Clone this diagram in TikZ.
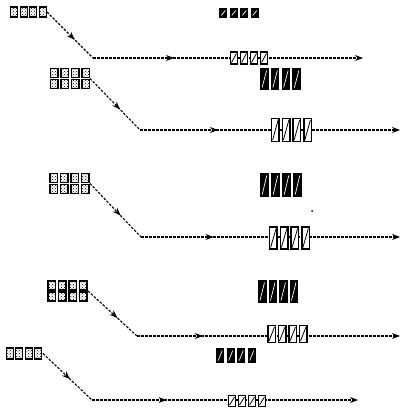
\documentclass[tikz,border=0pt]{standalone}
\usetikzlibrary{arrows.meta,decorations.markings,patterns}

% four boxes in a row, centred on a group node
\newcommand{\boxquad}[5]{%
  \foreach \i in {1,...,4}
    \node[#2, minimum width=#4, minimum height=#5] (#1-\i)
      at ([xshift={(\i-2.5)*#3}]#1.center) {};}
% two rows of four
\newcommand{\boxgrid}[5]{%
  \foreach \i in {1,...,4}
    \foreach \j in {1,2}
      \node[#2, minimum width=#4, minimum height=#5] (#1-\i-\j)
        at ([xshift={(\i-2.5)*#3}, yshift={(1.5-\j)*(#5+2)}]#1.center) {};}

\tikzset{
  grp/.style={inner sep=0pt, outer sep=0pt},
  dotbox/.style={inner sep=0pt, draw=black, line width=1.4pt,
    preaction={fill=white}, pattern=crosshatch dots, pattern color=black},
  slashbox/.style={inner sep=0pt, draw=black, fill=black, line width=1pt,
    path picture={\draw[white, line width=0.7pt]
      ([shift={(1.5pt,2pt)}]path picture bounding box.south west) --
      ([shift={(-1.5pt,-2pt)}]path picture bounding box.north east);}},
  linebox/.style={inner sep=0pt, draw=black, fill=white, line width=1.3pt,
    path picture={\draw[black, line width=0.8pt]
      ([shift={(1pt,1.5pt)}]path picture bounding box.south west) --
      ([shift={(-1pt,-1.5pt)}]path picture bounding box.north east);}},
  track/.style={dash pattern=on 2.5pt off 1.5pt, line width=1.1pt},
  midarrow/.style={decoration={markings,
    mark=at position #1 with {\arrow{Stealth[length=8pt, width=6pt]}}},
    postaction={decorate}},
  endarrow/.style={-{Stealth[length=8pt, width=6pt]}}
}

\begin{document}
\begin{tikzpicture}[x=1pt, y=-1pt]
  \useasboundingbox (0,0) rectangle (402,415);

  % group places
  \node[grp, minimum width=37, minimum height=12] (a) at (28.5,12) {};
  \node[grp, minimum width=42, minimum height=10] (t1) at (239,13) {};
  \node[grp, minimum width=40, minimum height=14] (m1) at (249,58) {};
  \node[grp, minimum width=40, minimum height=23] (b) at (70,78.5) {};
  \node[grp, minimum width=43, minimum height=22] (t2) at (280.5,79) {};
  \node[grp, minimum width=43, minimum height=24] (m2) at (291.5,130) {};
  \node[grp, minimum width=41, minimum height=23] (c) at (69.5,183.5) {};
  \node[grp, minimum width=44, minimum height=24] (t3) at (281,185) {};
  \node[grp, minimum width=43, minimum height=23] (m3) at (289.5,238) {};
  \node[grp, minimum width=41, minimum height=22] (d) at (67.5,291) {};
  \node[grp, minimum width=40, minimum height=23] (t4) at (278,291.5) {};
  \node[grp, minimum width=41, minimum height=18] (m4) at (287.5,334) {};
  \node[grp, minimum width=42, minimum height=15] (u4) at (236,355.5) {};
  \node[grp, minimum width=38, minimum height=13] (e) at (24,353.5) {};
  \node[grp, minimum width=40, minimum height=12] (m5) at (247,401) {};

  % bends and ends
  \coordinate (k1) at (93,58);   \coordinate (z1) at (363,58);
  \coordinate (k2) at (140,130); \coordinate (z2) at (400,130);
  \coordinate (k3) at (141,237); \coordinate (z3) at (400,237);
  \coordinate (k4) at (137,336); \coordinate (z4) at (400,336);
  \coordinate (k5) at (92,400);  \coordinate (z5) at (358,400);

  % tracks
  \draw[track, midarrow=0.6] (a.east) -- (k1);
  \draw[track, midarrow=0.3, endarrow] (k1) -- (z1);
  \draw[track, midarrow=0.6] (b.east) -- (k2);
  \draw[track, midarrow=0.3, endarrow] (k2) -- (z2);
  \draw[track, midarrow=0.6] (c.east) -- (k3);
  \draw[track, midarrow=0.28, endarrow] (k3) -- (z3);
  \draw[track, midarrow=0.6] (d.east) -- (k4);
  \draw[track, midarrow=0.25, endarrow] (k4) -- (z4);
  \draw[track, midarrow=0.55] (e.east) -- (k5);
  \draw[track, midarrow=0.28, endarrow] (k5) -- (z5);

  % boxes
  \boxquad{a}{dotbox}{9.5}{7}{10}
  \boxquad{t1}{slashbox}{10.5}{7}{9}
  \boxquad{m1}{linebox}{10}{7}{12}
  \boxgrid{b}{dotbox}{10.5}{7.5}{9}
  \boxquad{t2}{slashbox}{10.75}{7.5}{21}
  \boxquad{m2}{linebox}{10.75}{7.5}{23}
  \boxgrid{c}{dotbox}{10.5}{7.5}{9}
  \boxquad{t3}{slashbox}{11}{7.5}{23}
  \boxquad{m3}{linebox}{10.75}{7.5}{22}
  \boxgrid{d}{dotbox}{10.5}{7.5}{9}
  \boxquad{t4}{slashbox}{10.5}{7.5}{22}
  \boxquad{m4}{linebox}{10.5}{7.5}{17}
  \boxquad{u4}{slashbox}{10.5}{7}{14}
  \boxquad{e}{dotbox}{9.5}{7}{11}
  \boxquad{m5}{linebox}{10}{7}{11}

  \fill (312,211) circle (1pt);
\end{tikzpicture}
\end{document}
